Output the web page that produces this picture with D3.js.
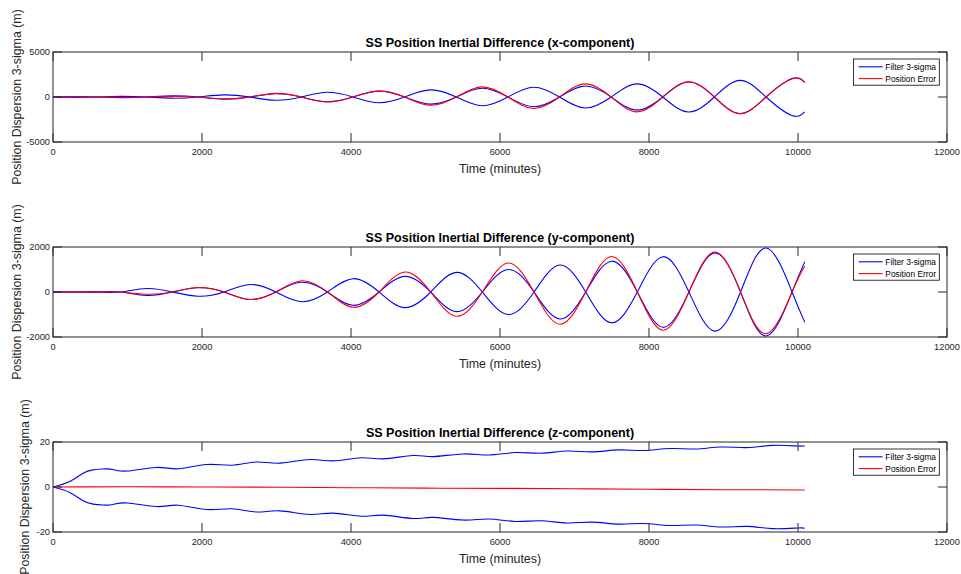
<!DOCTYPE html>
<html><head><meta charset="utf-8">
<script src="https://cdn.jsdelivr.net/npm/d3@7"></script>
<style>
html,body{margin:0;padding:0;background:#fff;}
svg{display:block;font-family:"Liberation Sans",Arial,Helvetica,sans-serif;}
</style></head><body>
<svg id="chart" width="961" height="574"></svg>
<script>
// ---------- data ----------
const xTicks = [0, 2000, 4000, 6000, 8000, 10000, 12000];
const titles = [
  "SS Position Inertial Difference (x-component)",
  "SS Position Inertial Difference (y-component)",
  "SS Position Inertial Difference (z-component)"
];
const xLabel = "Time (minutes)";
const yLabel = "Position Dispersion 3-sigma (m)";
const legendLabels = ["Filter 3-sigma", "Position Error"];

// x-component
const yTicksX = [-5000, 0, 5000];
const timeX  = [0, 215, 562, 908, 1255, 1601, 1948, 2294, 2641, 2987, 3334, 3680, 4027, 4373, 4720, 5066, 5413, 5759, 6106, 6452, 6799, 7145, 7492, 7838, 8185, 8531, 8878, 9224, 9571, 9917, 10090];
const sigmaX = [0, 10, 0, -70, 0, 130, 0, -240, 0, 360, 0, -520, 0, 640, 0, -790, 0, 980, 0, -1080, 0, 1220, 0, -1460, 0, 1660, 0, -1850, 0, 2050, 1650];
const errX   = [0, 0, 0, -20, 0, 60, 0, -200, 0, 400, 0, -560, 0, 680, 0, -920, 0, 1130, 0, -1280, 0, 1460, 0, -1650, 0, 1680, 0, -1850, 0, 2000, 1600];

// y-component
const yTicksY = [-2000, 0, 2000];
const timeY  = [0, 565, 912, 1258, 1605, 1951, 2298, 2644, 2991, 3337, 3684, 4030, 4377, 4723, 5070, 5416, 5763, 6110, 6457, 6803, 7150, 7496, 7843, 8189, 8536, 8882, 9229, 9575, 9920, 10090];
const sigmaY = [0, 5, 0, -155, 0, 190, 0, -335, 0, 430, 0, -592, 0, 695, 0, -873, 0, 1000, 0, -1200, 0, 1370, 0, -1570, 0, 1740, 0, -1953, 0, 1340];
const errY   = [0, 0, 0, -100, 0, 200, 0, -330, 0, 500, 0, -680, 0, 890, 0, -1080, 0, 1290, 0, -1435, 0, 1580, 0, -1700, 0, 1776, 0, -1850, 0, 1155];

// z-component
const yTicksZ = [-20, 0, 20];
const timeZ  = [0, 224, 403, 537, 671, 805, 1000, 1388, 1680, 2059, 2400, 2730, 3043, 3446, 3758, 4139, 4430, 4832, 5101, 5503, 5850, 6200, 6550, 6900, 7240, 7590, 7930, 8280, 8630, 8970, 9320, 9660, 10000, 10090];
const sigmaZ = [0, 2.4, 6.1, 7.6, 8.0, 7.8, 7.1, 8.7, 8.1, 10.0, 9.7, 11.1, 10.6, 12.2, 11.6, 13.0, 12.5, 14.0, 13.5, 14.7, 14.2, 15.3, 15.0, 16.0, 15.6, 16.5, 16.2, 17.1, 16.9, 17.8, 17.5, 18.5, 18.2, 18.3];
const timeZerr = [0, 1000, 2000, 3000, 4000, 5000, 6000, 7000, 8000, 9000, 10090];
const errZ     = [0, 0.1, 0, -0.1, -0.3, -0.5, -0.6, -0.8, -1.0, -1.2, -1.3];

// ---------- layout ----------
const svg = d3.select("#chart");
const L = 53, R = 947, H = 90;
const axisColor = "#262626";
const panels = [
  {top: 52,  yTicks: yTicksX, t: timeX, sig: sigmaX, tErr: timeX, err: errX, title: titles[0], ylx: 21},
  {top: 247, yTicks: yTicksY, t: timeY, sig: sigmaY, tErr: timeY, err: errY, title: titles[1], ylx: 21},
  {top: 442, yTicks: yTicksZ, t: timeZ, sig: sigmaZ, tErr: timeZerr, err: errZ, title: titles[2], ylx: 29}
];

const x = d3.scaleLinear().domain([0, 12000]).range([L, R]);

panels.forEach((p, i) => {
  const top = p.top, bottom = p.top + H;
  const y = d3.scaleLinear().domain([p.yTicks[0], p.yTicks[p.yTicks.length - 1]]).range([bottom, top]);
  const g = svg.append("g");

  const clipId = "clip" + i;
  svg.append("clipPath").attr("id", clipId).append("rect")
    .attr("x", L).attr("y", top).attr("width", R - L).attr("height", H);

  const line = d3.line().curve(d3.curveNatural);
  const lines = g.append("g").attr("clip-path", `url(#${clipId})`);
  const sigPts = p.t.map((t, k) => [x(t), y(p.sig[k])]);
  const sigNeg = p.t.map((t, k) => [x(t), y(-p.sig[k])]);
  const errPts = p.tErr.map((t, k) => [x(t), y(p.err[k])]);
  lines.append("path").attr("d", line(sigPts)).attr("fill", "none").attr("stroke", "#0000ff").attr("stroke-width", 1.1);
  lines.append("path").attr("d", line(sigNeg)).attr("fill", "none").attr("stroke", "#0000ff").attr("stroke-width", 1.1);
  lines.append("path").attr("d", line(errPts)).attr("fill", "none").attr("stroke", "#ff0000").attr("stroke-width", 1.1);

  // frame
  g.append("rect").attr("x", L).attr("y", top).attr("width", R - L).attr("height", H)
    .attr("fill", "none").attr("stroke", axisColor).attr("stroke-width", 1);

  // ticks
  const tl = 9;
  xTicks.forEach(v => {
    g.append("line").attr("x1", x(v)).attr("x2", x(v)).attr("y1", bottom).attr("y2", bottom - tl)
      .attr("stroke", axisColor);
    g.append("line").attr("x1", x(v)).attr("x2", x(v)).attr("y1", top).attr("y2", top + tl)
      .attr("stroke", axisColor);
    g.append("text").attr("x", x(v)).attr("y", bottom + 13).attr("text-anchor", "middle")
      .attr("font-size", 9.3).attr("fill", axisColor).text(v);
  });
  p.yTicks.forEach(v => {
    g.append("line").attr("x1", L).attr("x2", L + tl).attr("y1", y(v)).attr("y2", y(v)).attr("stroke", axisColor);
    g.append("line").attr("x1", R).attr("x2", R - tl).attr("y1", y(v)).attr("y2", y(v)).attr("stroke", axisColor);
    g.append("text").attr("x", L - 3).attr("y", y(v)).attr("dy", "0.35em").attr("text-anchor", "end")
      .attr("font-size", 9.3).attr("fill", axisColor).text(v);
  });

  // title
  g.append("text").attr("x", (L + R) / 2).attr("y", top - 5).attr("text-anchor", "middle")
    .attr("font-size", 12.5).attr("font-weight", "bold").attr("fill", "#000").text(p.title);
  // x label
  g.append("text").attr("x", (L + R) / 2).attr("y", bottom + 30.5).attr("text-anchor", "middle")
    .attr("font-size", 12.4).attr("fill", axisColor).text(xLabel);
  // y label
  g.append("text").attr("transform", `translate(${p.ylx},${(top + bottom) / 2}) rotate(-90)`)
    .attr("text-anchor", "middle").attr("font-size", 12.4).attr("fill", axisColor).text(yLabel);

  // legend
  const lw = 85.7, lh = 26.2;
  const lx = R - 7.7 - lw, ly = top + 7;
  const lg = g.append("g");
  lg.append("rect").attr("x", lx).attr("y", ly).attr("width", lw).attr("height", lh)
    .attr("fill", "#fff").attr("stroke", "#000").attr("stroke-width", 0.8);
  const colors = ["#0000ff", "#ff0000"];
  const rows = [7.8, 19.6];
  legendLabels.forEach((lab, k) => {
    lg.append("line").attr("x1", lx + 5).attr("x2", lx + 29)
      .attr("y1", ly + rows[k]).attr("y2", ly + rows[k]).attr("stroke", colors[k]).attr("stroke-width", 1.1);
    lg.append("text").attr("x", lx + 31.7).attr("y", ly + rows[k]).attr("dy", "0.35em")
      .attr("font-size", 8.4).attr("fill", "#000").text(lab);
  });
});
</script>
</body></html>
